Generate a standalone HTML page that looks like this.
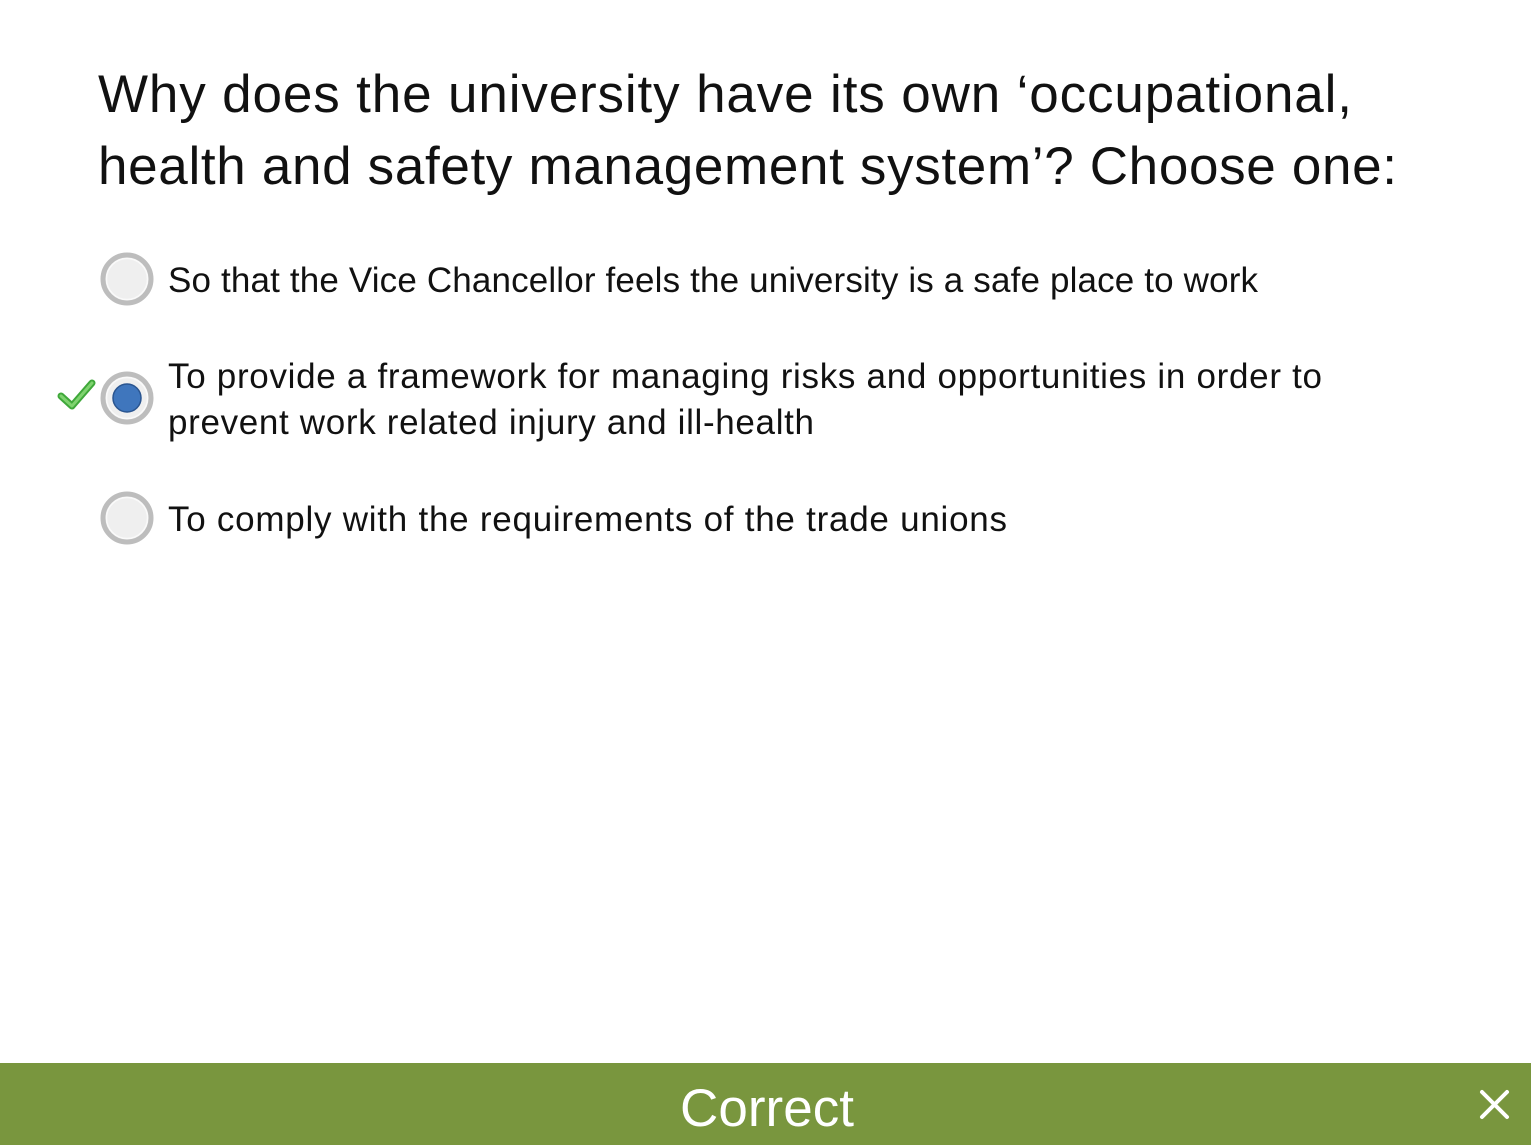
<!DOCTYPE html>
<html><head><meta charset="utf-8"><style>
html,body{margin:0;padding:0;background:#fff;width:1531px;height:1145px;overflow:hidden}
svg{display:block}
text{font-family:"Liberation Sans",sans-serif}
</style></head><body>
<svg width="1531" height="1145" viewBox="0 0 1531 1145">
<g fill="#111" font-size="53">
<text x="98" y="112" textLength="1254" lengthAdjust="spacing">Why does the university have its own ‘occupational,</text>
<text x="98" y="184" textLength="1299" lengthAdjust="spacing">health and safety management system’? Choose one:</text>
</g>
<g>
<circle cx="127" cy="279" r="24" fill="#efefef" stroke="#bdbdbd" stroke-width="5"/>
<circle cx="127" cy="279" r="20.5" fill="none" stroke="#fafafa" stroke-width="1.5"/>
<text x="168" y="292" font-size="35" fill="#111" textLength="1090" lengthAdjust="spacing">So that the Vice Chancellor feels the university is a safe place to work</text>
</g>
<g>
<path d="M61 396 L72 406 L92 383" fill="none" stroke="#3fa83a" stroke-width="7" stroke-linecap="round" stroke-linejoin="round"/>
<path d="M61 396 L72 406 L92 383" fill="none" stroke="#7fd36f" stroke-width="3" stroke-linecap="round" stroke-linejoin="round"/>
<circle cx="127" cy="398" r="24" fill="#efefef" stroke="#bdbdbd" stroke-width="5"/>
<circle cx="127" cy="398" r="20.5" fill="none" stroke="#fafafa" stroke-width="1.5"/>
<circle cx="127" cy="398" r="14" fill="#3f76bd" stroke="#2a5590" stroke-width="1.5"/>
<text x="168" y="388" font-size="35" fill="#111" textLength="1154" lengthAdjust="spacing">To provide a framework for managing risks and opportunities in order to</text>
<text x="168" y="434" font-size="35" fill="#111" textLength="646" lengthAdjust="spacing">prevent work related injury and ill-health</text>
</g>
<g>
<circle cx="127" cy="518" r="24" fill="#efefef" stroke="#bdbdbd" stroke-width="5"/>
<circle cx="127" cy="518" r="20.5" fill="none" stroke="#fafafa" stroke-width="1.5"/>
<text x="168" y="531" font-size="35" fill="#111" textLength="839" lengthAdjust="spacing">To comply with the requirements of the trade unions</text>
</g>
<g>
<rect x="0" y="1063" width="1531" height="82" fill="#79963e"/>
<text x="680" y="1126" font-size="53" fill="#fff" textLength="174" lengthAdjust="spacing">Correct</text>
<g stroke="#fff" stroke-width="4" stroke-linecap="round">
<line x1="1482" y1="1092" x2="1507" y2="1117"/>
<line x1="1507" y1="1092" x2="1482" y2="1117"/>
</g>
</g>
</svg>
</body></html>
